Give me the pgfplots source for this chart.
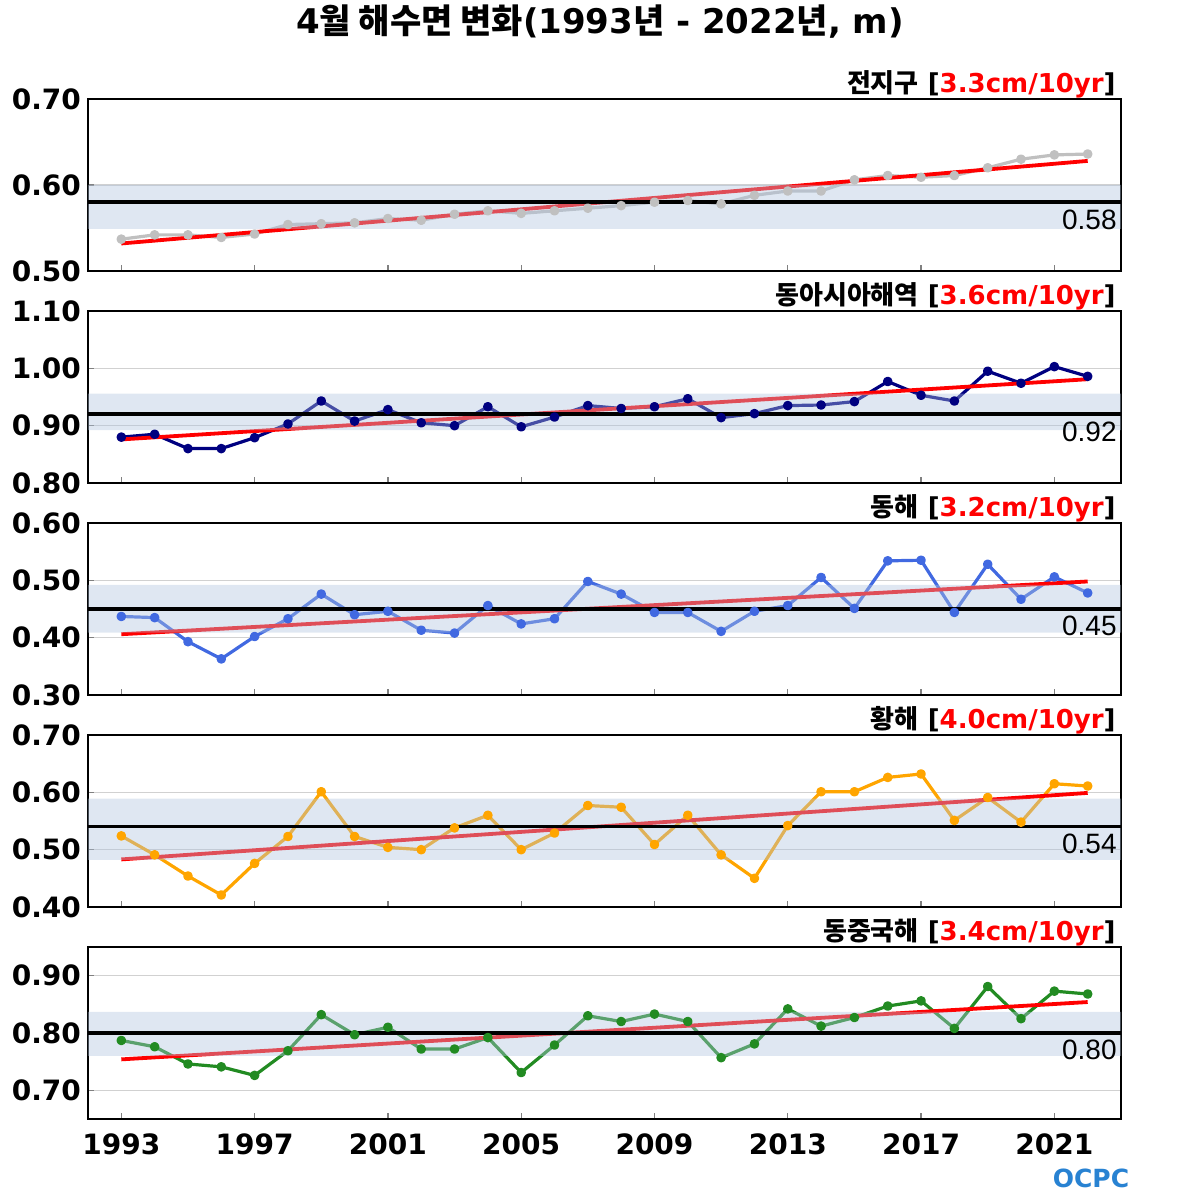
\documentclass[border=0pt]{standalone}
\usepackage{fontspec}
\usepackage{pgfplots}
\pgfplotsset{compat=1.18}
\setmainfont{DejaVu Sans}
\newfontfamily\kr{Noto Sans CJK KR}
\newfontfamily\numf{Liberation Sans}
\definecolor{bandc}{RGB}{176,196,222}
\definecolor{trendc}{RGB}{255,0,0}
\definecolor{c1}{RGB}{192,192,192}
\definecolor{c2}{RGB}{0,0,128}
\definecolor{c3}{RGB}{65,105,225}
\definecolor{c4}{RGB}{255,165,0}
\definecolor{c5}{RGB}{34,139,34}
\definecolor{logoc}{RGB}{40,130,210}
\tikzset{
  plab/.style={anchor=base east, inner sep=0pt, xshift=-2.5pt, yshift=3pt, font=\fontsize{13}{13}\selectfont\bfseries},
  vlab/.style={anchor=north east, inner sep=0pt, xshift=-2pt, yshift=-3.5pt, font=\numf\fontsize{14}{14}\selectfont},
}
\pgfplotsset{
  panel/.style={
    scale only axis, width=516.5pt, height=86pt,
    anchor=south west, clip=false,
    xmin=1992, xmax=2023,
    xtick={1993,1997,2001,2005,2009,2013,2017,2021}, xticklabels={},
    xtick pos=bottom, ytick pos=left,
    tick align=inside, major tick length=3pt,
    tick style={draw=gray, line width=0.6pt},
    ymajorgrids, grid style={draw=black!18, line width=0.6pt},
    axis line style={line width=1pt},
    yticklabel style={font=\fontsize{14}{14}\selectfont\bfseries,
      /pgf/number format/.cd, fixed, fixed zerofill, precision=2, assume math mode=true},
  },
  series/.style={color=#1, line width=1.6pt, mark=*, mark size=1.6pt, mark options={solid}, line join=round},
  trend/.style={trendc, line width=1.9pt},
  band/.style={fill=bandc, fill opacity=0.4, draw=none},
  meanl/.style={black, line width=1.7pt},
}
\begin{document}
\begin{tikzpicture}
\useasboundingbox (0,0) rectangle (600pt,600pt);
\node[font=\fontsize{17}{17}\selectfont\bfseries] at (300pt,589pt)
  {4{\kr\bfseries 월 해수면 변화}(1993{\kr\bfseries 년} - 2022{\kr\bfseries 년}, m)};

% Panel 1
\begin{axis}[panel, at={(44pt,464.5pt)}, ymin=0.5, ymax=0.7, ytick={0.5,0.6,0.7}]
\addplot[series=c1] coordinates {
(1993,0.537)(1994,0.542)(1995,0.542)(1996,0.539)(1997,0.543)(1998,0.554)(1999,0.555)(2000,0.556)
(2001,0.561)(2002,0.559)(2003,0.566)(2004,0.570)(2005,0.567)(2006,0.570)(2007,0.573)(2008,0.576)
(2009,0.580)(2010,0.582)(2011,0.578)(2012,0.588)(2013,0.593)(2014,0.593)(2015,0.606)(2016,0.611)
(2017,0.609)(2018,0.611)(2019,0.620)(2020,0.630)(2021,0.635)(2022,0.636)};
\addplot[trend] coordinates {(1993,0.532)(2022,0.628)};
\addplot[band] coordinates {(1992,0.549)(2023,0.549)(2023,0.600)(1992,0.600)(1992,0.549)};
\addplot[meanl] coordinates {(1992,0.58)(2023,0.58)};
\node[vlab] at (axis cs:2023,0.58) {0.58};
\node[plab] at (rel axis cs:1,1) {{\kr\bfseries 전지구} [\textcolor{red}{3.3cm/10yr}]};
\end{axis}

% Panel 2
\begin{axis}[panel, at={(44pt,358.5pt)}, ymin=0.8, ymax=1.1, ytick={0.8,0.9,1.0,1.1}]
\addplot[series=c2] coordinates {
(1993,0.880)(1994,0.885)(1995,0.860)(1996,0.860)(1997,0.879)(1998,0.903)(1999,0.943)(2000,0.908)
(2001,0.928)(2002,0.905)(2003,0.900)(2004,0.933)(2005,0.898)(2006,0.915)(2007,0.935)(2008,0.930)
(2009,0.933)(2010,0.947)(2011,0.914)(2012,0.921)(2013,0.935)(2014,0.936)(2015,0.942)(2016,0.977)
(2017,0.953)(2018,0.943)(2019,0.995)(2020,0.974)(2021,1.003)(2022,0.986)};
\addplot[trend] coordinates {(1993,0.876)(2022,0.981)};
\addplot[band] coordinates {(1992,0.892)(2023,0.892)(2023,0.956)(1992,0.956)(1992,0.892)};
\addplot[meanl] coordinates {(1992,0.92)(2023,0.92)};
\node[vlab] at (axis cs:2023,0.92) {0.92};
\node[plab] at (rel axis cs:1,1) {{\kr\bfseries 동아시아해역} [\textcolor{red}{3.6cm/10yr}]};
\end{axis}

% Panel 3
\begin{axis}[panel, at={(44pt,252.5pt)}, ymin=0.3, ymax=0.6, ytick={0.3,0.4,0.5,0.6}]
\addplot[series=c3] coordinates {
(1993,0.437)(1994,0.435)(1995,0.393)(1996,0.363)(1997,0.402)(1998,0.433)(1999,0.476)(2000,0.440)
(2001,0.446)(2002,0.413)(2003,0.408)(2004,0.456)(2005,0.424)(2006,0.433)(2007,0.498)(2008,0.476)
(2009,0.444)(2010,0.444)(2011,0.411)(2012,0.446)(2013,0.456)(2014,0.505)(2015,0.451)(2016,0.534)
(2017,0.535)(2018,0.444)(2019,0.528)(2020,0.467)(2021,0.506)(2022,0.478)};
\addplot[trend] coordinates {(1993,0.406)(2022,0.498)};
\addplot[band] coordinates {(1992,0.409)(2023,0.409)(2023,0.492)(1992,0.492)(1992,0.409)};
\addplot[meanl] coordinates {(1992,0.45)(2023,0.45)};
\node[vlab] at (axis cs:2023,0.45) {0.45};
\node[plab] at (rel axis cs:1,1) {{\kr\bfseries 동해} [\textcolor{red}{3.2cm/10yr}]};
\end{axis}

% Panel 4
\begin{axis}[panel, at={(44pt,146.5pt)}, ymin=0.4, ymax=0.7, ytick={0.4,0.5,0.6,0.7}]
\addplot[series=c4] coordinates {
(1993,0.524)(1994,0.491)(1995,0.454)(1996,0.421)(1997,0.476)(1998,0.523)(1999,0.601)(2000,0.523)
(2001,0.504)(2002,0.500)(2003,0.538)(2004,0.560)(2005,0.500)(2006,0.529)(2007,0.577)(2008,0.574)
(2009,0.509)(2010,0.560)(2011,0.491)(2012,0.450)(2013,0.542)(2014,0.601)(2015,0.601)(2016,0.626)
(2017,0.632)(2018,0.551)(2019,0.591)(2020,0.548)(2021,0.615)(2022,0.611)};
\addplot[trend] coordinates {(1993,0.483)(2022,0.599)};
\addplot[band] coordinates {(1992,0.482)(2023,0.482)(2023,0.589)(1992,0.589)(1992,0.482)};
\addplot[meanl] coordinates {(1992,0.54)(2023,0.54)};
\node[vlab] at (axis cs:2023,0.54) {0.54};
\node[plab] at (rel axis cs:1,1) {{\kr\bfseries 황해} [\textcolor{red}{4.0cm/10yr}]};
\end{axis}

% Panel 5
\begin{axis}[panel, at={(44pt,40.5pt)}, ymin=0.65, ymax=0.95, ytick={0.7,0.8,0.9},
  xticklabels={1993,1997,2001,2005,2009,2013,2017,2021},
  xticklabel style={font=\fontsize{14}{14}\selectfont\bfseries, yshift=-4pt}]
\addplot[series=c5] coordinates {
(1993,0.787)(1994,0.776)(1995,0.746)(1996,0.741)(1997,0.726)(1998,0.769)(1999,0.832)(2000,0.797)
(2001,0.810)(2002,0.772)(2003,0.772)(2004,0.792)(2005,0.731)(2006,0.779)(2007,0.830)(2008,0.820)
(2009,0.833)(2010,0.820)(2011,0.757)(2012,0.781)(2013,0.842)(2014,0.812)(2015,0.827)(2016,0.847)
(2017,0.856)(2018,0.808)(2019,0.881)(2020,0.825)(2021,0.873)(2022,0.868)};
\addplot[trend] coordinates {(1993,0.754)(2022,0.854)};
\addplot[band] coordinates {(1992,0.760)(2023,0.760)(2023,0.837)(1992,0.837)(1992,0.760)};
\addplot[meanl] coordinates {(1992,0.80)(2023,0.80)};
\node[vlab] at (axis cs:2023,0.80) {0.80};
\node[plab] at (rel axis cs:1,1) {{\kr\bfseries 동중국해} [\textcolor{red}{3.4cm/10yr}]};
\end{axis}

\node[font=\fontsize{12.5}{12.5}\selectfont\bfseries, text=logoc, inner sep=0pt] at (545.5pt,11pt) {OCPC};
\end{tikzpicture}
\end{document}
